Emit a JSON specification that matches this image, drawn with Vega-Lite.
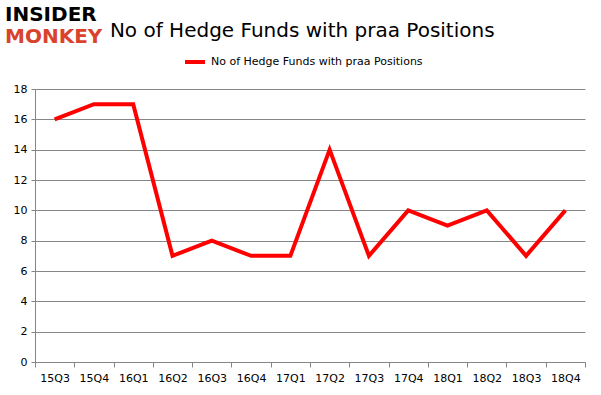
{
  "$schema": "https://vega.github.io/schema/vega-lite/v6.json",
  "autosize": {"type": "pad"},
  "padding": {"left": 5, "top": 5, "right": 16, "bottom": 14},
  "background": "#ffffff",
  "title": {
    "text": "No of Hedge Funds with praa Positions",
    "anchor": "middle",
    "frame": "bounds",
    "font": "DejaVu Sans",
    "fontSize": 20,
    "fontWeight": "normal",
    "color": "#000000",
    "dx": 7,
    "offset": -36
  },
  "data": {
    "values": [
      {"q": "15Q3", "v": 16, "s": "No of Hedge Funds with praa Positions"},
      {"q": "15Q4", "v": 17, "s": "No of Hedge Funds with praa Positions"},
      {"q": "16Q1", "v": 17, "s": "No of Hedge Funds with praa Positions"},
      {"q": "16Q2", "v": 7, "s": "No of Hedge Funds with praa Positions"},
      {"q": "16Q3", "v": 8, "s": "No of Hedge Funds with praa Positions"},
      {"q": "16Q4", "v": 7, "s": "No of Hedge Funds with praa Positions"},
      {"q": "17Q1", "v": 7, "s": "No of Hedge Funds with praa Positions"},
      {"q": "17Q2", "v": 14, "s": "No of Hedge Funds with praa Positions"},
      {"q": "17Q3", "v": 7, "s": "No of Hedge Funds with praa Positions"},
      {"q": "17Q4", "v": 10, "s": "No of Hedge Funds with praa Positions"},
      {"q": "18Q1", "v": 9, "s": "No of Hedge Funds with praa Positions"},
      {"q": "18Q2", "v": 10, "s": "No of Hedge Funds with praa Positions"},
      {"q": "18Q3", "v": 7, "s": "No of Hedge Funds with praa Positions"},
      {"q": "18Q4", "v": 10, "s": "No of Hedge Funds with praa Positions"}
    ]
  },
  "vconcat": [
    {
      "width": 550,
      "height": 273,
      "title": {
        "text": "INSIDER",
        "subtitle": "MONKEY",
        "anchor": "start",
        "frame": "group",
        "dx": -30,
        "offset": 36,
        "font": "DejaVu Sans",
        "fontSize": 20,
        "fontWeight": "bold",
        "color": "#000000",
        "subtitleFont": "DejaVu Sans",
        "subtitleFontSize": 20,
        "subtitleFontWeight": "bold",
        "subtitleColor": "#d9432c",
        "subtitlePadding": 2
      },
      "mark": {"type": "line", "strokeWidth": 4, "strokeJoin": "miter"},
      "encoding": {
        "x": {
          "field": "q",
          "type": "ordinal",
          "sort": null,
          "scale": {"type": "band", "paddingInner": 0, "paddingOuter": 0},
          "axis": {
            "title": null,
            "labelAngle": 0,
            "tickBand": "extent",
            "tickSize": 5,
            "labelPadding": 5,
            "grid": false
          }
        },
        "y": {
          "field": "v",
          "type": "quantitative",
          "scale": {"domain": [0, 18]},
          "axis": {
            "title": null,
            "values": [0, 2, 4, 6, 8, 10, 12, 14, 16, 18],
            "tickSize": 4,
            "labelPadding": 4,
            "grid": true
          }
        },
        "color": {
          "field": "s",
          "type": "nominal",
          "scale": {"range": ["#ff0000"]},
          "legend": {
            "title": null,
            "orient": "none",
            "legendX": 148,
            "legendY": -39,
            "symbolType": "stroke",
            "symbolStrokeWidth": 4,
            "symbolSize": 400,
            "labelFont": "DejaVu Sans",
            "labelFontSize": 11,
            "labelColor": "#000000",
            "labelLimit": 0
          }
        }
      }
    }
  ],
  "config": {
    "view": {"stroke": null},
    "axis": {
      "domainColor": "#868686",
      "tickColor": "#868686",
      "gridColor": "#868686",
      "labelFont": "DejaVu Sans",
      "labelFontSize": 11,
      "labelColor": "#000000"
    }
  }
}
